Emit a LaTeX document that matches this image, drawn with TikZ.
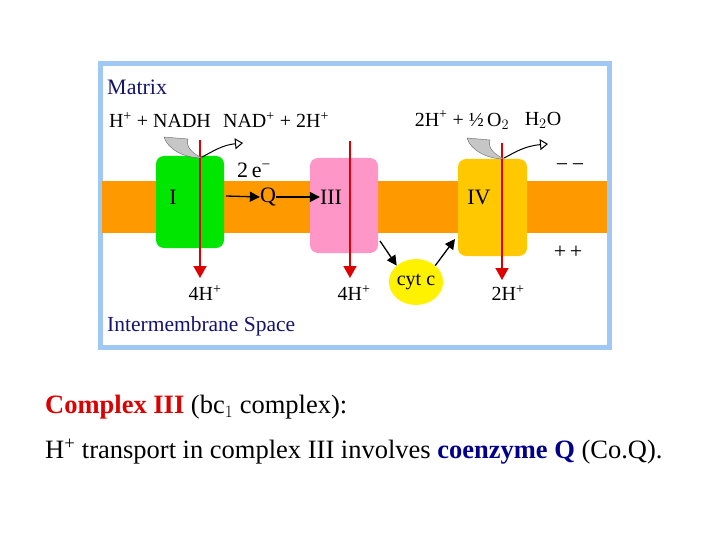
\documentclass[tikz,border=0pt]{standalone}
\usepackage{fontspec}
\setmainfont{Liberation Serif}
\setsansfont{Liberation Sans}
\usetikzlibrary{arrows.meta,shapes.geometric}
\definecolor{frameblue}{RGB}{160,200,245}
\definecolor{memb}{RGB}{255,153,0}
\definecolor{cI}{RGB}{0,230,0}
\definecolor{cIII}{RGB}{255,150,200}
\definecolor{cIV}{RGB}{255,200,0}
\definecolor{navy}{RGB}{20,20,110}
\definecolor{hred}{RGB}{220,0,0}
\definecolor{qblue}{RGB}{0,0,140}
\newcommand{\mysup}[1]{\textsuperscript{#1}}
\tikzset{
 lab/.style={font=\fontsize{22}{22}\selectfont,inner sep=0pt},
 slab/.style={font=\fontsize{20}{20}\selectfont,inner sep=0pt},
 harrow/.style={draw=hred,line width=1.5pt,-{Triangle[length=12pt,width=13pt]}},
 earrow/.style={line width=1.3pt,-{Triangle[length=10pt,width=10pt]}},
 txt/.style={font=\fontsize{26.5}{26.5}\selectfont,inner sep=0pt,anchor=west}
}
\begin{document}
\begin{tikzpicture}[x=1pt,y=-1pt]
\useasboundingbox (0,0) rectangle (720,540);
\fill[white] (0,0) rectangle (720,540);
\draw[frameblue,line width=5pt] (100,64) rectangle (609,347);
\fill[memb] (102,181) rectangle (607,233);
\fill[cI,rounded corners=8pt] (156,156) rectangle (224,248);
\fill[cIII,rounded corners=8pt] (310,158) rectangle (378,253);
\fill[cIV,rounded corners=8pt] (458,159) rectangle (527,256);
\node[lab] (I) at (173,197) {I};
\node[lab] (III) at (331,197) {III};
\node[lab] (IV) at (479,197) {IV};
\node[lab] (Q) at (268,197) {Q};
\coordinate (qs) at (226,196);
\draw[earrow] (qs) -- (Q.west);
\draw[earrow] (Q.east) -- (III.west);
\node[lab] (e) at (254,170) {2\,e\mysup{−}};
\node[lab] (mm) at (570,168) {−\,−};
\node[lab] (pp) at (568,252) {+\,+};
% red arrows
\coordinate (a1) at (200,140); \coordinate (b1) at (200,278);
\coordinate (a3) at (350,141); \coordinate (b3) at (350,278);
\coordinate (a4) at (502,143); \coordinate (b4) at (502,280);
\draw[harrow] (a1) -- (b1);
\draw[harrow] (a3) -- (b3);
\draw[harrow] (a4) -- (b4);
\node[slab] (h1) at (205,293) {4H\mysup{+}};
\node[slab] (h3) at (354,293) {4H\mysup{+}};
\node[slab] (h4) at (508,293) {2H\mysup{+}};
\node[ellipse,fill=yellow,minimum width=54pt,minimum height=46pt,inner sep=0pt,font=\fontsize{20}{20}\selectfont] (cyt) at (416,282) {cyt c};
\coordinate (c1) at (380,241); \coordinate (c2) at (455,239);
\draw[earrow] (c1) -- (cyt.north west);
\draw[earrow] (cyt.north east) -- (c2);
% top labels
\node[slab] (nadh) at (160,120) {H\mysup{+} + NADH};
\node[slab] (nad) at (276,120) {NAD\mysup{+} + 2H\mysup{+}};
\node[slab] (o2) at (462,120) {2H\mysup{+} + ½\,O$_2$};
\node[slab] (h2o) at (543,120) {H$_2$O};
% gray curved arrows
\fill[gray!45,draw=black!60,line width=0.4pt] (164,137) .. controls (168,150) and (185,158) .. (202,158) .. controls (190,152) and (186,146) .. (188,139) -- cycle;
\draw[line width=1pt,-{Triangle[open,length=8pt,width=11pt]}] (202,157) .. controls (212,152) and (222,145) .. (243,143);
\fill[gray!45,draw=black!60,line width=0.4pt] (467,138) .. controls (471,151) and (488,159) .. (504,159) .. controls (492,153) and (488,147) .. (490,140) -- cycle;
\draw[line width=1pt,-{Triangle[open,length=8pt,width=11pt]}] (504,158) .. controls (514,153) and (524,146) .. (548,144);
\node[lab,text=navy,anchor=west] (mat) at (107,87) {Matrix};
\node[slab,text=navy,anchor=west,font=\fontsize{21.5}{21.5}\selectfont] (ims) at (107,326) {Intermembrane Space};
% bottom text
\node[txt] (l1) at (45,407) {\textbf{\textcolor{hred}{Complex III}} (bc$_1$ complex):};
\node[txt] (l2) at (45,452) {H\mysup{+} transport in complex III involves \textbf{\textcolor{qblue}{coenzyme Q}} (Co.Q).};
\end{tikzpicture}
\end{document}
